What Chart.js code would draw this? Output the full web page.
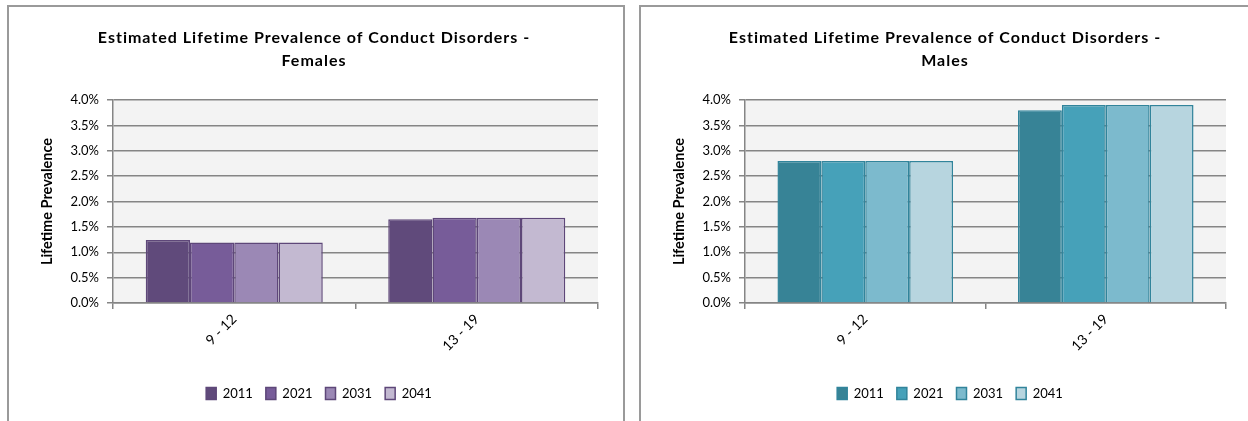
<!DOCTYPE html>
<html>
<head>
<meta charset="utf-8">
<script src="https://cdn.jsdelivr.net/npm/chart.js@4.4.1/dist/chart.umd.min.js"></script>
<style>
  html, body { margin: 0; padding: 0; background: #ffffff; overflow: hidden; }
  body { width: 1248px; height: 421px; position: relative; }
  .panel { position: absolute; box-sizing: border-box; border: 2px solid #9a9a9a; border-bottom: none; background: #fff; }
  #panelF { left: 7px; top: 5px; width: 618px; height: 430px; }
  #panelM { left: 639px; top: 5px; width: 620px; height: 430px; border-right: none; }
  .wrap { position: absolute; }
  #wrapF { left: 9px; top: 7px; width: 614px; height: 414px; }
  #wrapM { left: 641px; top: 7px; width: 607px; height: 414px; }
</style>
</head>
<body>
<div class="panel" id="panelF"></div>
<div class="panel" id="panelM"></div>
<div class="wrap" id="wrapF"><canvas id="chartF" width="614" height="414"></canvas></div>
<div class="wrap" id="wrapM"><canvas id="chartM" width="607" height="414"></canvas></div>
<script>
// Age groups and projection years
const categories = ['9 - 12', '13 - 19'];
const years = ['2011', '2021', '2031', '2041'];

// Lifetime prevalence (%) of conduct disorders, females
const female2011 = [1.24, 1.65];
const female2021 = [1.19, 1.68];
const female2031 = [1.19, 1.68];
const female2041 = [1.19, 1.68];

// Lifetime prevalence (%) of conduct disorders, males
const male2011 = [2.8, 3.8];
const male2021 = [2.8, 3.9];
const male2031 = [2.8, 3.9];
const male2041 = [2.8, 3.9];

// Value axis ticks
const yTicks = [0, 0.5, 1.0, 1.5, 2.0, 2.5, 3.0, 3.5, 4.0];

const titleF = ['Estimated Lifetime Prevalence of Conduct Disorders -', 'Females'];
const titleM = ['Estimated Lifetime Prevalence of Conduct Disorders -', 'Males'];

const FONT = 'Lato, "Open Sans", "DejaVu Sans", sans-serif';
const GRID = '#858585';

// Light grey plot area fill
const plotBg = {
  id: 'plotBg',
  beforeDraw(chart) {
    const a = chart.chartArea, ctx = chart.ctx;
    ctx.save();
    ctx.fillStyle = '#f3f3f3';
    ctx.fillRect(a.left, a.top, a.right - a.left, a.bottom - a.top);
    ctx.restore();
  }
};

// Two-line bold heading centred over the panel
const heading = {
  id: 'heading',
  afterDraw(chart, args, opts) {
    const ctx = chart.ctx;
    ctx.save();
    ctx.font = 'bold 16px ' + FONT;
    ctx.letterSpacing = '1px';
    ctx.fillStyle = '#000';
    ctx.textAlign = 'center';
    ctx.textBaseline = 'alphabetic';
    opts.lines.forEach((t, i) => ctx.fillText(t, opts.cx, opts.y0 + i * opts.dy));
    ctx.restore();
  }
};

function makeChart(id, lines, series, fills, border, plotRight, padLeft, headX) {
  const plotLeft = 104, plotTop = 93, plotBottom = 296, padBottom = 11;
  const canvas = document.getElementById(id);
  const W = canvas.width;
  return new Chart(canvas, {
    type: 'bar',
    data: {
      labels: categories,
      datasets: years.map((y, i) => ({
        label: y,
        data: series[i],
        backgroundColor: fills[i],
        borderColor: border,
        borderWidth: 1.5,
        barPercentage: 1.0,
        categoryPercentage: 0.73
      }))
    },
    options: {
      responsive: false,
      animation: false,
      devicePixelRatio: 1,
      layout: { padding: { top: plotTop, right: W - plotRight, bottom: padBottom, left: padLeft } },
      plugins: {
        legend: {
          position: 'bottom',
          labels: {
            font: { family: FONT, size: 13 },
            color: '#000',
            boxWidth: 10,
            boxHeight: 12,
            padding: 13
          }
        },
        tooltip: { enabled: false },
        heading: { lines: lines, cx: headX, y0: 36, dy: 23 }
      },
      scales: {
        x: {
          grid: { drawOnChartArea: false, drawTicks: true, tickLength: 6, color: GRID, lineWidth: 1.5 },
          border: { display: true, color: GRID, width: 1.5 },
          ticks: {
            font: { family: FONT, size: 14 },
            color: '#000',
            minRotation: 45,
            maxRotation: 45,
            autoSkip: false,
            padding: 2
          },
          afterFit(s) {
            const lh = s.chart.legend ? s.chart.legend.height : 0;
            s.height = s.chart.height - plotBottom - lh - padBottom;
          }
        },
        y: {
          min: 0,
          max: 4,
          afterBuildTicks(s) { s.ticks = yTicks.map(v => ({ value: v })); },
          grid: { color: GRID, lineWidth: 1.5, tickLength: 6 },
          border: { display: true, color: GRID, width: 1.5 },
          ticks: {
            font: { family: FONT, size: 13 },
            color: '#000',
            padding: 8,
            callback: v => Number(v).toFixed(1) + '%'
          },
          title: {
            display: true,
            text: 'Lifetime Prevalence',
            font: { family: FONT, size: 14.5, weight: 'bold' },
            color: '#000',
            padding: { top: 30 - padLeft, bottom: 0 }
          },
          afterFit(s) { s.width = plotLeft - padLeft; }
        }
      }
    },
    plugins: [plotBg, heading]
  });
}

makeChart('chartF', titleF,
  [female2011, female2021, female2031, female2041],
  ['#604a7b', '#775c99', '#9b88b5', '#c3b9d1'],
  '#5e4779', 589, 31, 305);

makeChart('chartM', titleM,
  [male2011, male2021, male2031, male2041],
  ['#378396', '#46a1b9', '#7cbacd', '#b7d5df'],
  '#31849b', 585, 33, 304);
</script>
</body>
</html>
